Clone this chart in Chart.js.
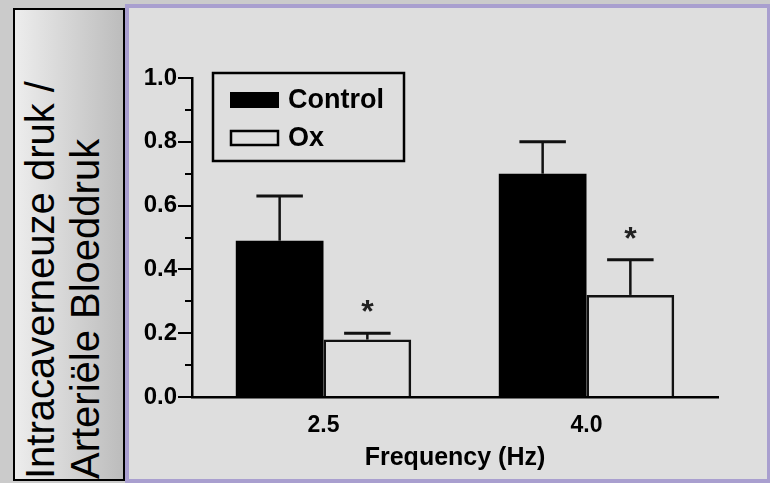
<!DOCTYPE html>
<html>
<head>
<meta charset="utf-8">
<script src="https://cdn.jsdelivr.net/npm/chart.js@4.4.1/dist/chart.umd.min.js"></script>
<style>
  html, body { margin: 0; padding: 0; }
  body { width: 770px; height: 483px; background: #cbcbcb; position: relative; overflow: hidden; font-family: "Liberation Sans", Arial, sans-serif; }
  #side { position: absolute; left: 13px; top: 8px; width: 108px; height: 469px; border: 2px solid #000; background: linear-gradient(to right, #ededed, #bcbcbc); overflow: hidden; }
  #side div { position: absolute; left: 0; top: 469px; width: 469px; transform-origin: 0 0; transform: rotate(-90deg); white-space: nowrap; font-size: 40px; line-height: 45px; padding-top: 3px; color: #000; }
  #panel { position: absolute; left: 125px; top: 4px; width: 645px; height: 479px; box-sizing: border-box; border: 4px solid #a99fcf; border-right-width: 3px; background: #dedede; }
  #chart { position: absolute; left: 0; top: 0; }
</style>
</head>
<body>
<div id="side"><div>Intracaverneuze druk /<br>Arteriële Bloeddruk</div></div>
<div id="panel"></div>
<canvas id="chart" width="770" height="483"></canvas>
<script>
const categories = ['2.5', '4.0'];
const controlMeans = [0.49, 0.70];
const controlErrTop = [0.63, 0.80];
const oxMeans = [0.18, 0.32];
const oxErrTop = [0.20, 0.43];
const oxSignificant = [true, true];
const yTicks = [0, 0.2, 0.4, 0.6, 0.8, 1.0];
const yMinorTicks = [0.1, 0.3, 0.5, 0.7, 0.9];

const FONT = '"Liberation Sans", Arial, sans-serif';
Chart.defaults.font.family = FONT;
Chart.defaults.color = '#000';

// SEM whiskers (upper only) and significance stars
const errorBars = {
  id: 'errorBars',
  afterDatasetsDraw(chart) {
    const ctx = chart.ctx;
    const y = chart.scales.y;
    chart.data.datasets.forEach((ds, di) => {
      chart.getDatasetMeta(di).data.forEach((bar, i) => {
        const top = y.getPixelForValue(ds.errTop[i]);
        const half = bar.width * 0.265;
        ctx.save();
        ctx.strokeStyle = '#111';
        ctx.lineWidth = 2.5;
        ctx.beginPath();
        ctx.moveTo(bar.x, bar.y);
        ctx.lineTo(bar.x, top);
        ctx.stroke();
        ctx.lineWidth = 3;
        ctx.beginPath();
        ctx.moveTo(bar.x - half, top);
        ctx.lineTo(bar.x + half, top);
        ctx.stroke();
        if (ds.significant && ds.significant[i]) {
          ctx.font = 'bold 32px ' + FONT;
          ctx.fillStyle = '#222';
          const m = ctx.measureText('*');
          const cy = top - 27;
          ctx.textAlign = 'center';
          ctx.textBaseline = 'alphabetic';
          ctx.fillText('*', bar.x, cy + (m.actualBoundingBoxAscent - m.actualBoundingBoxDescent) / 2);
        }
        ctx.restore();
      });
    });
  }
};

// short minor ticks between the labelled ones
const minorTicks = {
  id: 'minorTicks',
  afterDraw(chart) {
    const ctx = chart.ctx;
    const y = chart.scales.y;
    const x0 = chart.chartArea.left;
    ctx.save();
    ctx.strokeStyle = '#000';
    ctx.lineWidth = 2;
    yMinorTicks.forEach(v => {
      const py = Math.round(y.getPixelForValue(v));
      ctx.beginPath();
      ctx.moveTo(x0 - 7, py);
      ctx.lineTo(x0, py);
      ctx.stroke();
    });
    ctx.restore();
  }
};

// boxed legend inside the plot, top-left
const boxLegend = {
  id: 'boxLegend',
  afterDraw(chart) {
    const ctx = chart.ctx;
    const bx = 213, by = 73, bw = 191, bh = 88;
    ctx.save();
    ctx.strokeStyle = '#000';
    ctx.lineWidth = 2.5;
    ctx.strokeRect(bx, by, bw, bh);
    ctx.font = 'bold 27px ' + FONT;
    ctx.textBaseline = 'middle';
    ctx.fillStyle = '#000';
    chart.data.datasets.forEach((ds, i) => {
      const sy = by + 19 + i * 38;
      if (ds.backgroundColor !== 'rgba(0,0,0,0)') {
        ctx.fillStyle = ds.backgroundColor;
        ctx.fillRect(bx + 17, sy, 49, 16);
      } else {
        ctx.lineWidth = 2.5;
        ctx.strokeRect(bx + 18, sy + 1, 47, 14);
      }
      ctx.fillStyle = '#000';
      ctx.fillText(ds.label, bx + 75, sy + 9);
    });
    ctx.restore();
  }
};

new Chart(document.getElementById('chart'), {
  type: 'bar',
  data: {
    labels: categories,
    datasets: [
      {
        label: 'Control',
        data: controlMeans,
        errTop: controlErrTop,
        backgroundColor: '#000',
        borderWidth: 0,
        categoryPercentage: 0.667,
        barPercentage: 1.0
      },
      {
        label: 'Ox',
        data: oxMeans,
        errTop: oxErrTop,
        significant: oxSignificant,
        backgroundColor: 'rgba(0,0,0,0)',
        borderColor: '#111',
        borderWidth: 2.5,
        borderSkipped: 'bottom',
        categoryPercentage: 0.667,
        barPercentage: 1.0
      }
    ]
  },
  options: {
    responsive: false,
    animation: false,
    layout: { padding: { left: 0, top: 78, right: 52, bottom: 0 } },
    plugins: {
      legend: { display: false },
      tooltip: { enabled: false }
    },
    scales: {
      x: {
        afterFit(scale) { scale.height = 86; },
        grid: { display: false, drawTicks: false },
        border: { display: true, color: '#000', width: 2.5 },
        ticks: { font: { size: 23, weight: 'bold' }, padding: 15, color: '#000' },
        title: {
          display: true,
          text: 'Frequency (Hz)',
          color: '#000',
          font: { size: 25, weight: 'bold' },
          padding: { top: 0, bottom: 10 }
        }
      },
      y: {
        min: 0,
        max: 1,
        afterFit(scale) { scale.width = 192; },
        afterBuildTicks(scale) { scale.ticks = yTicks.map(v => ({ value: v })); },
        grid: { drawOnChartArea: false, drawTicks: true, tickLength: 14, color: '#000', lineWidth: 2 },
        border: { display: true, color: '#000', width: 2.5 },
        ticks: {
          font: { size: 24, weight: 'bold' },
          padding: 1,
          color: '#000',
          callback: v => v.toFixed(1)
        }
      }
    }
  },
  plugins: [errorBars, minorTicks, boxLegend]
});
</script>
</body>
</html>
